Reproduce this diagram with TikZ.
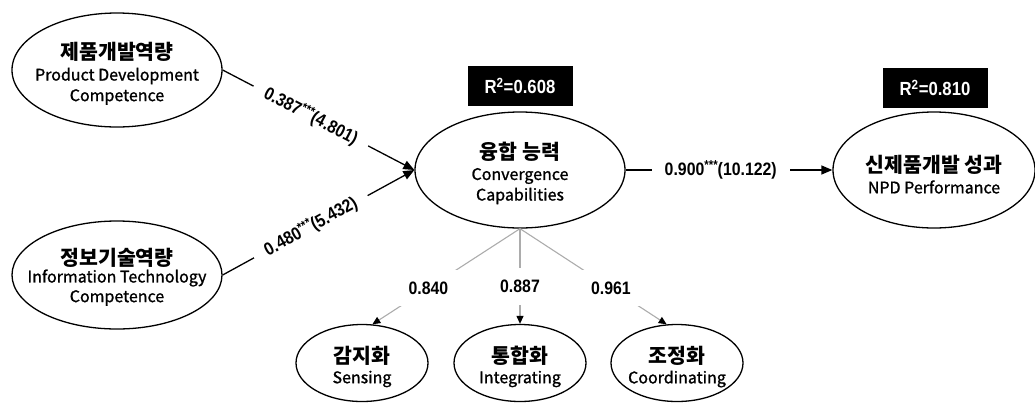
\documentclass[tikz,border=0pt]{standalone}
\usepackage{fontspec}
\newfontfamily\kr{Noto Sans CJK KR}
\newfontfamily\kren[FakeBold=1.2]{Noto Sans CJK KR}
\newfontfamily\nf[FakeStretch=0.88]{Liberation Sans}
\newcommand{\stars}{\raisebox{0.32em}{\fontsize{13}{13}\selectfont ***}}
\usetikzlibrary{shapes.geometric,arrows.meta}
\begin{document}
\begin{tikzpicture}[x=1pt,y=-1pt,
  oval/.style={draw, ellipse, line width=1.3pt, inner sep=0pt},
  big/.style={oval, minimum width=210pt, minimum height=114pt},
  small/.style={oval, minimum width=132pt, minimum height=77pt},
  ko/.style={font=\kr\bfseries\fontsize{20.5}{24}\selectfont, inner sep=0pt},
  en/.style={font=\kren\fontsize{16}{18}\selectfont, inner sep=0pt},
  rbox/.style={fill=black, text=white, minimum width=105pt, minimum height=40pt,
    inner sep=0pt, font=\nf\bfseries\fontsize{19}{22}\selectfont},
  path/.style={line width=1.3pt, -{Triangle[length=11pt,width=9pt]}},
  plab/.style={fill=white, inner xsep=13pt, inner ysep=3pt, font=\nf\bfseries\fontsize{18}{20}\selectfont},
  load/.style={draw=gray!65, line width=1.1pt, -{Triangle[length=8pt,width=7pt,color=black]}},
  llab/.style={fill=white, inner xsep=10pt, inner ysep=12pt, font=\nf\bfseries\fontsize{18}{20}\selectfont}
]
\useasboundingbox (0,0) rectangle (1035,405);

% latent constructs
\node[big] (pd) at (117,70) {};
\node[ko] (pdk) at (117,52) {제품개발역량};
\node[en] (pde1) at (117,76) {Product Development};
\node[en] (pde2) at (117,97) {Competence};

\node[big, minimum height=108pt] (itc) at (117,275) {};
\node[ko] (itk) at (117,258) {정보기술역량};
\node[en] (ite1) at (117,278) {Information Technology};
\node[en] (ite2) at (117,298) {Competence};

\node[big, minimum height=116pt] (cc) at (520,170) {};
\node[ko] (cck) at (520,152) {융합 능력};
\node[en] (cce1) at (520,176) {Convergence};
\node[en] (cce2) at (520,196) {Capabilities};

\node[big, minimum width=202pt, minimum height=116pt] (np) at (934,170) {};
\node[ko] (npk) at (934,165) {신제품개발 성과};
\node[en] (npe) at (934,187) {NPD Performance};

\node[small] (se) at (362,363) {};
\node[ko] (sek) at (362,356) {감지화};
\node[en] (see) at (362,379) {Sensing};

\node[small] (ig) at (520,363) {};
\node[ko] (igk) at (520,356) {통합화};
\node[en] (ige) at (520,379) {Integrating};

\node[small] (co) at (677,363) {};
\node[ko] (cok) at (677,356) {조정화};
\node[en] (coe) at (677,379) {Coordinating};

% R-squared boxes
\node[rbox] (r1) at (520,86) {R\textsuperscript{2}=0.608};
\node[rbox] (r2) at (935,88) {R\textsuperscript{2}=0.810};

% structural paths
\draw[path] (pd.east) -- node[plab, sloped, pos=0.46] {0.387\stars(4.801)} (cc.west);
\draw[path] (itc.east) -- node[plab, sloped, pos=0.46] {0.480\stars(5.432)} (cc.west);
\draw[path] (cc.east) -- node[plab, pos=0.46] {0.900\stars(10.122)} (np.west);

% loadings
\draw[load] (cc.south) -- node[llab, pos=0.62] {0.840} (se.75);
\draw[load] (cc.south) -- node[llab, pos=0.61] {0.887} (ig.north);
\draw[load] (cc.south) -- node[llab, pos=0.62] {0.961} (co.105);
\end{tikzpicture}
\end{document}
